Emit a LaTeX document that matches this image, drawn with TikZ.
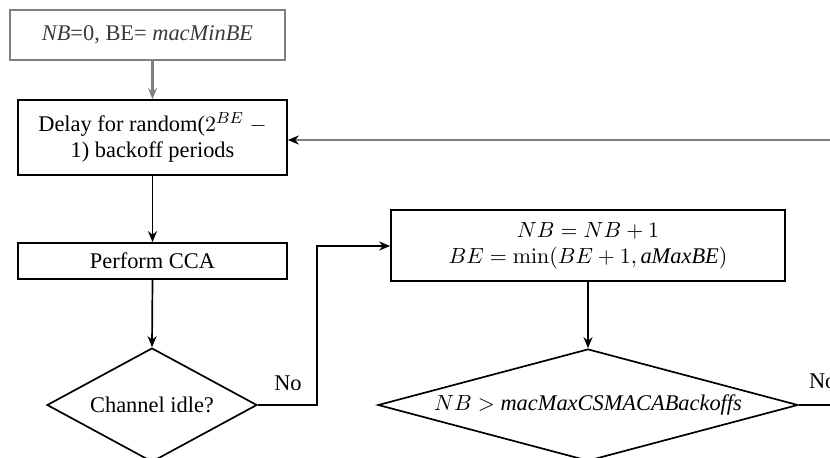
\documentclass[tikz,border=0pt]{standalone}
\usepackage[no-math]{fontspec}
\setmainfont{Liberation Serif}
\usetikzlibrary{shapes.geometric,arrows.meta}
\definecolor{linegray}{HTML}{808080}
\definecolor{textgray}{HTML}{3A3A3A}
\begin{document}
\begin{tikzpicture}[x=0.5pt,y=-0.5pt,
  font=\fontsize{11.2}{12.8}\selectfont,
  arr/.style={-{Stealth[length=5.5pt,width=4.5pt]}, line width=0.85pt},
  procbox/.style={draw, line width=0.85pt, rectangle, inner sep=0pt, align=center},
  decision/.style={draw, line width=0.85pt, diamond, inner sep=0pt, align=center},
  initbox/.style={draw=linegray, line width=1.3pt, rectangle, inner sep=0pt, text=textgray}
]
\useasboundingbox (0,0) rectangle (830,457);
\clip (0,0) rectangle (830,457);

\node[initbox, minimum width=137.5pt, minimum height=25pt] (init) at (147.5,35)
  {\textit{NB}=0, BE= \textit{macMinBE}};
\node[procbox, minimum width=134.5pt, minimum height=37.5pt] (delay) at (152.5,137.5)
  {Delay for random($2^{BE}$ $-$\\[0.5pt] 1) backoff periods};
\node[procbox, minimum width=134.5pt, minimum height=18pt] (cca) at (152.5,261)
  {Perform CCA};
\node[decision, shape aspect=1.8, minimum width=105pt, minimum height=57pt] (idle) at (152,405)
  {Channel idle?};
\node[procbox, minimum width=197pt, minimum height=35.5pt] (inc) at (588,245.5)
  {$NB = NB + 1$\\ $BE = \min(BE + 1, \textit{aMaxBE})$};
\node[decision, shape aspect=3.8, minimum width=210pt, minimum height=56pt] (cmp) at (588,405)
  {$N B >$ \textit{macMaxCSMACABackoffs}};

\coordinate (bend1) at (317,405);
\coordinate (bend2) at (317,246);
\coordinate (fb) at (870,140);
\coordinate (out2) at (870,405);

\draw[arr, draw=linegray, line width=1.1pt] (init.south -| delay.north) -- (delay.north);
\draw[arr] (delay.south) -- (cca.north);
\draw[arr] (cca.south) -- (idle.north);
\draw[arr] (idle.east) -- (bend1) -- (bend2) -- (bend2 -| inc.west);
\node[anchor=south] (no1) at (288,398) {No};
\draw[arr] (inc.south) -- (cmp.north);
\draw[line width=0.85pt] (cmp.east) -- (out2);
\node[anchor=south west] (no2) at (802,396) {No};
\draw[-{Stealth[length=5.5pt,width=4.5pt,color=black]}, draw=linegray, line width=1.1pt] (fb) -- (fb -| delay.east);
\end{tikzpicture}
\end{document}
